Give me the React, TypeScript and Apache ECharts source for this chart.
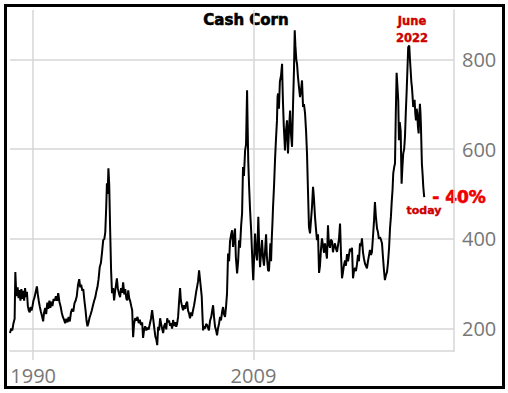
import React, { useEffect, useRef } from "react";
import * as echarts from "echarts";

const years: number[] = [
  1988.00,1988.10,1988.20,1988.30,1988.40,1988.46,1988.52,1988.58,1988.66,1988.74,1988.82,1988.90,1988.98,
  1989.06,1989.14,1989.22,1989.30,1989.38,1989.46,1989.54,1989.62,1989.70,1989.78,1989.86,1989.94,
  1990.02,1990.12,1990.22,1990.32,1990.40,1990.48,1990.56,1990.66,1990.76,1990.86,1990.94,
  1991.04,1991.12,1991.22,1991.30,1991.40,1991.48,1991.58,1991.66,1991.76,1991.86,1991.96,
  1992.06,1992.16,1992.26,1992.36,1992.46,1992.56,1992.66,1992.76,1992.86,1992.96,
  1993.06,1993.16,1993.26,1993.36,1993.46,1993.56,1993.66,1993.76,1993.86,1993.97,
  1994.06,1994.14,1994.24,1994.32,1994.42,1994.52,1994.60,1994.68,1994.76,1994.86,1994.96,
  1995.06,1995.16,1995.26,1995.36,1995.46,1995.54,1995.64,1995.74,1995.84,1995.94,
  1996.04,1996.14,1996.22,1996.30,1996.36,1996.42,1996.49,1996.56,1996.64,1996.72,1996.80,1996.90,1996.98,
  1997.06,1997.14,1997.22,1997.30,1997.40,1997.50,1997.58,1997.68,1997.76,1997.86,1997.94,
  1998.04,1998.12,1998.20,1998.28,1998.36,1998.46,1998.54,1998.62,1998.70,1998.80,1998.90,
  1999.00,1999.10,1999.20,1999.30,1999.40,1999.48,1999.56,1999.66,1999.76,1999.86,1999.96,
  2000.06,2000.16,2000.26,2000.36,2000.46,2000.54,2000.62,2000.70,2000.78,2000.86,2000.95,
  2001.04,2001.12,2001.21,2001.30,2001.40,2001.48,2001.56,2001.64,2001.72,2001.81,2001.90,2001.98,
  2002.07,2002.16,2002.26,2002.34,2002.41,2002.50,2002.58,2002.67,2002.74,2002.84,2002.93,
  2003.02,2003.12,2003.20,2003.28,2003.36,2003.44,2003.53,2003.62,2003.70,2003.79,2003.88,2003.98,
  2004.06,2004.14,2004.22,2004.31,2004.38,2004.46,2004.54,2004.60,2004.66,2004.74,2004.82,2004.92,
  2005.00,2005.08,2005.16,2005.26,2005.36,2005.44,2005.52,2005.60,2005.69,2005.78,2005.86,2005.94,
  2006.04,2006.12,2006.20,2006.30,2006.38,2006.46,2006.55,2006.64,2006.72,2006.81,2006.90,2006.98,
  2007.08,2007.16,2007.24,2007.32,2007.41,2007.48,2007.54,2007.59,2007.68,2007.76,2007.84,2007.94,
  2008.02,2008.10,2008.18,2008.28,2008.36,2008.45,2008.50,2008.55,2008.62,2008.71,2008.80,2008.88,2008.94,2008.98,
  2009.06,2009.14,2009.22,2009.31,2009.36,2009.42,2009.50,2009.57,2009.66,2009.74,2009.82,2009.91,
  2010.00,2010.09,2010.16,2010.26,2010.34,2010.40,2010.46,2010.52,2010.58,2010.64,2010.69,2010.78,2010.86,2010.94,
  2011.03,2011.08,2011.12,2011.20,2011.28,2011.38,2011.47,2011.51,2011.55,2011.62,2011.68,2011.72,2011.80,2011.90,2011.94,2011.98,
  2012.06,2012.16,2012.22,2012.28,2012.33,2012.41,2012.50,2012.56,2012.62,2012.70,2012.76,2012.84,2012.92,
  2013.02,2013.10,2013.19,2013.24,2013.28,2013.36,2013.45,2013.54,2013.62,2013.71,2013.79,2013.88,2013.96,
  2014.05,2014.14,2014.22,2014.31,2014.40,2014.48,2014.57,2014.66,2014.74,2014.82,2014.91,
  2015.00,2015.09,2015.17,2015.26,2015.34,2015.43,2015.50,2015.60,2015.68,2015.78,2015.86,2015.94,
  2016.03,2016.12,2016.21,2016.29,2016.38,2016.47,2016.56,2016.64,2016.72,2016.80,2016.90,2016.98,
  2017.07,2017.16,2017.24,2017.33,2017.42,2017.50,2017.59,2017.68,2017.76,2017.84,2017.93,
  2018.02,2018.10,2018.19,2018.28,2018.36,2018.45,2018.54,2018.62,2018.70,2018.79,2018.88,2018.96,
  2019.05,2019.14,2019.22,2019.31,2019.40,2019.48,2019.56,2019.66,2019.74,2019.82,2019.91,
  2020.00,2020.09,2020.17,2020.26,2020.34,2020.42,2020.52,2020.60,2020.70,2020.78,2020.86,2020.92,
  2021.00,2021.06,2021.14,2021.21,2021.28,2021.35,2021.42,2021.49,2021.55,2021.62,2021.70,2021.78,2021.85,2021.92,
  2022.00,2022.07,2022.14,2022.22,2022.30,2022.35,2022.44,2022.50,2022.56,2022.62,2022.67,2022.72,2022.78,2022.84,2022.90,2022.96,
  2023.02,2023.08,2023.13,2023.19,2023.25,2023.30,2023.36,2023.41,2023.45,2023.53,2023.60,2023.65,2023.73,
];

const prices: number[] = [
  190,200,196,212,222,326,290,272,292,268,286,262,288,
  266,284,262,290,270,282,250,240,236,248,240,250,
  262,270,282,294,276,262,250,238,228,216,236,
  246,232,258,244,262,246,260,250,266,262,272,
  262,279,260,250,236,226,220,212,222,214,
  226,216,236,244,238,256,262,272,296,310,
  292,298,284,288,262,240,218,205,212,224,232,
  241,252,262,270,284,292,310,337,346,370,
  397,400,415,471,524,500,557,520,419,330,279,290,263,
  282,296,312,290,278,270,290,280,303,276,288,
  266,263,285,268,262,250,241,181,210,223,218,
  226,212,220,208,214,179,196,205,196,202,198,
  210,222,241,220,198,182,176,163,204,196,223,
  210,200,190,206,212,198,223,214,218,206,212,200,
  219,206,214,204,210,226,258,290,262,250,241,
  252,244,256,260,240,234,223,236,228,241,252,268,
  282,293,305,330,312,292,271,230,196,205,200,210,
  208,202,196,218,226,240,252,226,204,196,185,200,
  212,226,218,238,248,232,226,250,278,367,350,395,
  410,419,382,400,423,360,340,323,350,397,380,430,
  457,560,540,597,610,731,650,575,520,464,420,368,330,308,
  360,412,370,352,390,449,380,337,370,397,360,340,
  372,410,360,330,328,360,390,350,400,436,471,520,575,620,
  664,716,724,690,750,764,790,740,702,650,620,597,640,664,620,590,
  640,686,640,620,605,694,780,865,830,798,790,761,740,
  716,730,753,720,694,700,680,640,590,502,426,412,440,
  471,516,490,449,420,397,410,324,340,375,401,
  385,369,390,372,356,430,390,380,398,395,370,382,
  390,378,371,385,400,434,360,312,325,340,352,340,
  366,350,364,378,372,380,312,330,335,328,343,
  364,350,390,384,401,370,355,345,340,334,350,362,
  375,364,370,404,440,482,450,423,415,400,404,
  398,390,360,330,308,318,326,345,380,423,450,479,
  510,546,560,568,680,770,740,709,620,660,640,523,560,590,
  600,627,680,731,790,827,831,800,776,750,738,720,694,700,710,680,
  664,690,680,650,635,670,701,680,650,568,540,516,493,
];

const xTickYears: number[] = [1990, 2009];
const yTickValues: number[] = [200, 400, 600, 800];

const titleText = "Cash Corn";
const peakLabel = "June\n2022";
const changeLabel = "- 40%";
const todayLabel = "today";

export default function App() {
  const ref = useRef<HTMLDivElement>(null);
  useEffect(() => {
    if (!ref.current) return;
    const chart = echarts.init(ref.current, undefined, { renderer: "svg" });
    const seriesData = years.map((y, i) => [y, prices[i]]);
    const gridColor = "#d6d6d6";
    chart.setOption({
      animation: false,
      backgroundColor: "#ffffff",
      grid: { left: 10, right: 54, top: 10, bottom: 42, containLabel: false },
      xAxis: {
        type: "value",
        min: 1988,
        max: 2026.3,
        axisLine: { show: true, onZero: false, lineStyle: { color: gridColor, width: 1.5 } },
        axisTick: { show: true, customValues: xTickYears, length: 9, lineStyle: { color: gridColor, width: 1.5 } },
        axisLabel: {
          customValues: xTickYears,
          color: "#777777",
          fontFamily: "Open Sans",
          fontSize: 20,
          margin: 14,
          formatter: (v: number) => String(v),
        },
        splitLine: { show: true, lineStyle: { color: gridColor, width: 1.5 } },
      },
      yAxis: {
        type: "value",
        position: "right",
        min: 150,
        max: 910,
        axisLine: { show: true, onZero: false, lineStyle: { color: gridColor, width: 1.5 } },
        axisTick: { show: false, customValues: yTickValues },
        axisLabel: {
          customValues: yTickValues,
          color: "#777777",
          fontFamily: "Open Sans",
          fontSize: 20,
          margin: 8,
        },
        splitLine: { show: true, lineStyle: { color: gridColor, width: 1.5 } },
      },
      series: [
        {
          type: "line",
          data: seriesData,
          showSymbol: false,
          symbol: "none",
          lineStyle: { color: "#000000", width: 2 },
          z: 3,
        },
      ],
      graphic: [
        {
          type: "rect",
          shape: { x: 5.5, y: 5.5, width: 498, height: 382 },
          style: { fill: "none", stroke: "#000000", lineWidth: 3 },
          z: 100,
        },
        {
          type: "text",
          x: 246,
          y: 20,
          style: {
            text: titleText,
            fill: "#000000",
            stroke: "#000000",
            lineWidth: 0.6,
            font: "bold 15px 'DejaVu Sans'",
            textAlign: "center",
            textVerticalAlign: "middle",
          },
        },
        {
          type: "text",
          x: 412,
          y: 29,
          style: {
            text: peakLabel,
            fill: "#cc0000",
            stroke: "#cc0000",
            lineWidth: 0.4,
            font: "bold 11.5px 'DejaVu Sans'",
            lineHeight: 17,
            textAlign: "center",
            textVerticalAlign: "middle",
          },
        },
        {
          type: "text",
          x: 459,
          y: 197,
          style: {
            text: changeLabel,
            fill: "#ee0000",
            stroke: "#ee0000",
            lineWidth: 0.6,
            font: "bold 17px 'DejaVu Sans'",
            textAlign: "center",
            textVerticalAlign: "middle",
          },
        },
        {
          type: "text",
          x: 424,
          y: 210,
          style: {
            text: todayLabel,
            fill: "#cc0000",
            stroke: "#cc0000",
            lineWidth: 0.4,
            font: "bold 11px 'DejaVu Sans'",
            textAlign: "center",
            textVerticalAlign: "middle",
          },
        },
      ],
    });
    return () => chart.dispose();
  }, []);
  return (
    <div
      ref={ref}
      style={{ position: "absolute", left: 0, top: 0, width: 508, height: 393, background: "#fff" }}
    />
  );
}
